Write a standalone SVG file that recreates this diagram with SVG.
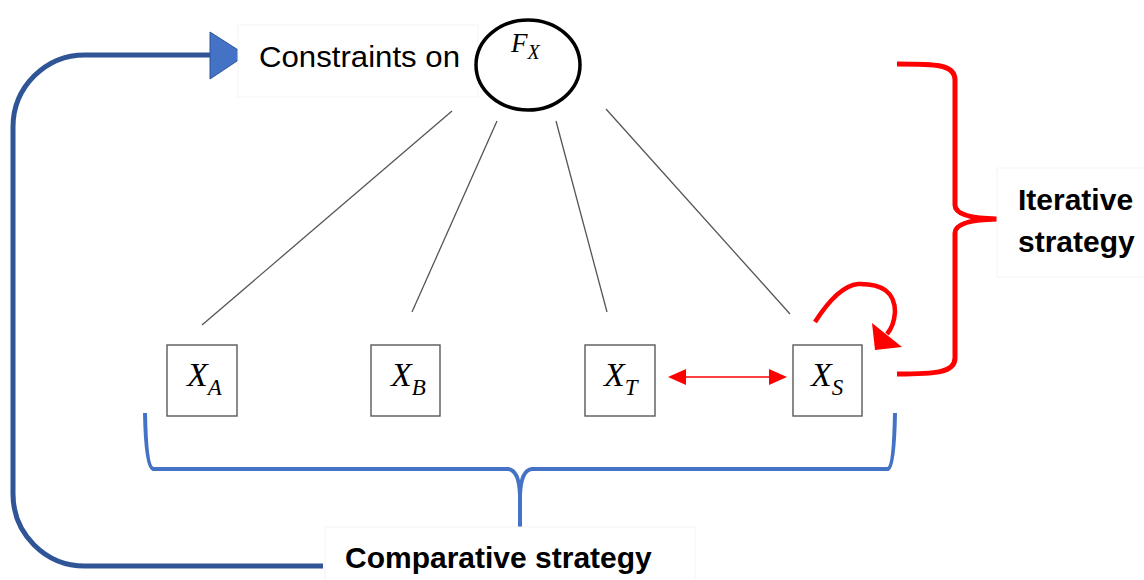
<svg xmlns="http://www.w3.org/2000/svg" width="1144" height="580" viewBox="0 0 1144 580">
<style>
.box{fill:#ffffff;stroke:#595959;stroke-width:1.4}
.lbl{fill:#ffffff;stroke:#f4f4f4;stroke-width:1}
.var{font-family:"Liberation Serif","DejaVu Serif",serif;font-style:italic;fill:#000}
.txt{font-family:"Liberation Sans",Arial,sans-serif;fill:#000}
.bold{font-family:"Liberation Sans",Arial,sans-serif;font-weight:bold;fill:#000}
.edge{stroke:#555555;stroke-width:1.3;fill:none}
.red{stroke:#ff0000;fill:none}
</style>
<rect width="1144" height="580" fill="#ffffff"/>

<g id="connectors">
<line class="edge" x1="452" y1="111" x2="202" y2="325"/>
<line class="edge" x1="497" y1="121" x2="412" y2="312"/>
<line class="edge" x1="556" y1="121" x2="607" y2="312"/>
<line class="edge" x1="606" y1="109" x2="790" y2="314"/>
<!-- red double arrow between X_T and X_S -->
<line x1="684" y1="377" x2="771" y2="377" stroke="#ff0000" stroke-width="1.5"/>
<path d="M668,377 L686,369 L686,385 z" fill="#ff0000"/>
<path d="M787,377 L769,369 L769,385 z" fill="#ff0000"/>
<!-- red self loop on X_S -->
<path class="red" stroke-width="4.5" d="M815,322 Q838,286 858,284 Q895,283 895,312 Q894,326 887,334"/>
<path d="M875,350 L872,323 L902,347 z" fill="#ff0000"/>
<!-- blue feedback arrow -->
<path d="M323,566 H85 A72,72 0 0 1 13,494 V127 A72,72 0 0 1 85,55 H213" fill="none" stroke="#2f5597" stroke-width="5"/>
<path d="M210,32 L246,55 L210,79 z" fill="#4472c4" stroke="#2f5597" stroke-width="1"/>
<!-- comparative brace -->
<path d="M145,413 Q146,467 153,469 L508,469 Q519,470 520,495 L520,527 M520,495 Q521,470 532,469 L888,469 Q894,467 895,413" fill="none" stroke="#4472c4" stroke-width="4"/>
<!-- iterative brace -->
<path d="M897,64 C935,64 955,64 955,80 L955,205 Q955,218 997,219 Q955,220 955,233 L955,358 C955,373 935,374 897,374" fill="none" stroke="#ff0000" stroke-width="5"/>
</g>

<g id="node-fx">
<rect class="lbl" x="238" y="25" width="240" height="72"/>
<text class="txt" x="259" y="67" font-size="29" textLength="201" lengthAdjust="spacingAndGlyphs">Constraints on</text>
<ellipse cx="528" cy="65" rx="52" ry="45" fill="#ffffff" stroke="#000" stroke-width="3.5"/>
<text class="var" x="511" y="52" font-size="27">F<tspan font-size="20" dy="7">X</tspan></text>
</g>

<g id="node-xa">
<rect class="box" x="167" y="345" width="70" height="71"/>
<text class="var" x="187" y="386" font-size="34">X<tspan font-size="23" dy="9">A</tspan></text>
</g>
<g id="node-xb">
<rect class="box" x="371" y="345" width="69" height="71"/>
<text class="var" x="391" y="386" font-size="34">X<tspan font-size="23" dy="9">B</tspan></text>
</g>
<g id="node-xt">
<rect class="box" x="585" y="345" width="70" height="71"/>
<text class="var" x="604" y="386" font-size="34">X<tspan font-size="23" dy="9">T</tspan></text>
</g>
<g id="node-xs">
<rect class="box" x="793" y="345" width="69" height="71"/>
<text class="var" x="811" y="386" font-size="34">X<tspan font-size="23" dy="9">S</tspan></text>
</g>

<g id="label-iterative">
<rect class="lbl" x="997" y="168" width="160" height="109"/>
<text class="bold" x="1018" y="210" font-size="30">Iterative</text>
<text class="bold" x="1018" y="252" font-size="30">strategy</text>
</g>
<g id="label-comparative">
<rect class="lbl" x="325" y="527" width="370" height="60"/>
<text class="bold" x="345" y="568" font-size="30">Comparative strategy</text>
</g>
</svg>
